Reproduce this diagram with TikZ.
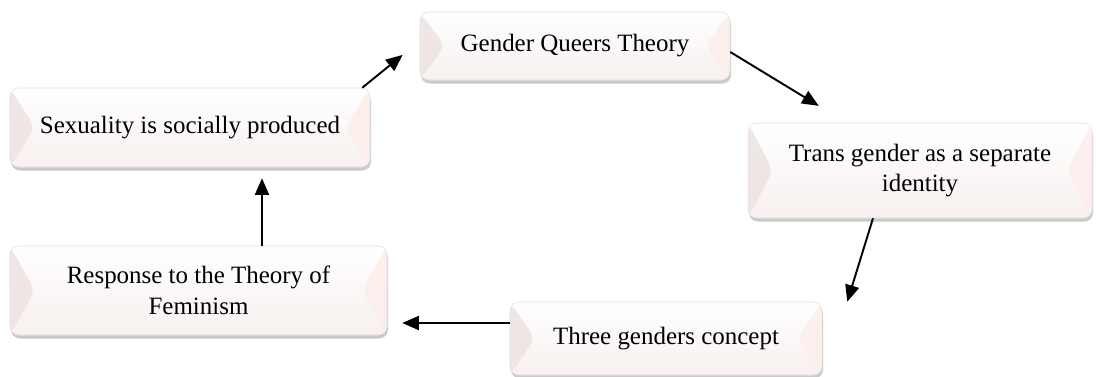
\documentclass[tikz,border=0pt]{standalone}
\usepackage{fontspec}
\setmainfont{Liberation Serif}
\usepackage{xcolor}
\definecolor{bevelleft}{RGB}{238,228,228}
\definecolor{bevelright}{RGB}{252,238,235}
\definecolor{bevelbottom}{RGB}{247,240,239}
\definecolor{boxedge}{RGB}{228,222,222}
\usepackage{tikz}
\usetikzlibrary{arrows.meta, positioning, calc, shadows}

\tikzset{
  theorybox/.style={rounded corners=5pt, draw=boxedge, line width=0.3pt, fill=white,
    drop shadow={shadow xshift=0.02cm, shadow yshift=-0.07cm, opacity=0.35, fill=black!60},
    font=\fontsize{14.2}{17.6}\selectfont, align=center, inner sep=0pt,
    path picture={
      \shade[top color=white, bottom color=bevelbottom] (path picture bounding box.north west) rectangle (path picture bounding box.south east);
      \fill[bevelleft, opacity=0.9] (path picture bounding box.north west) -- ($(path picture bounding box.west)+(0.5,0)$) -- (path picture bounding box.south west) -- cycle;
      \fill[bevelright, opacity=0.9] (path picture bounding box.north east) -- ($(path picture bounding box.east)+(-0.5,0)$) -- (path picture bounding box.south east) -- cycle;
    }},
  flowarrow/.style={-{Triangle[length=9.5pt,width=8pt]}, line width=1.1pt}
}

\begin{document}
\begin{tikzpicture}
  \useasboundingbox (0,0) rectangle (21.92,7.52);

  \node[theorybox, minimum width=6.2cm, minimum height=1.36cm] (gqt) at (11.5,6.6) {Gender Queers Theory};
  \node[theorybox, minimum width=6.88cm, minimum height=1.9cm] (trans) at (18.4,4.11) {Trans gender as a separate\\identity};
  \node[theorybox, minimum width=6.24cm, minimum height=1.46cm] (three) at (13.32,0.75) {Three genders concept};
  \node[theorybox, minimum width=7.54cm, minimum height=1.78cm] (resp) at (3.97,1.71) {Response to the Theory of\\Feminism};
  \node[theorybox, minimum width=7.2cm, minimum height=1.58cm] (sex) at (3.8,4.97) {Sexuality is socially produced};

  % cycle of arrows
  \draw[flowarrow, shorten >=0.44cm] ([xshift=-0.16cm]sex.north east) -- ([yshift=0.1cm]gqt.west);
  \draw[flowarrow, shorten >=0.65cm] ([yshift=-0.12cm]gqt.east) -- ([xshift=-1.47cm]trans.north);
  \draw[flowarrow] ([xshift=-0.94cm]trans.south) -- ([xshift=0.5cm]three.north east);
  \draw[flowarrow, shorten >=0.3cm] ([yshift=0.31cm]three.west) -- ([yshift=0.31cm]three.west -| resp.east);
  \draw[flowarrow, shorten >=0.22cm] ([xshift=1.27cm]resp.north) -- ([xshift=1.27cm]resp.north |- sex.south);
\end{tikzpicture}
\end{document}
